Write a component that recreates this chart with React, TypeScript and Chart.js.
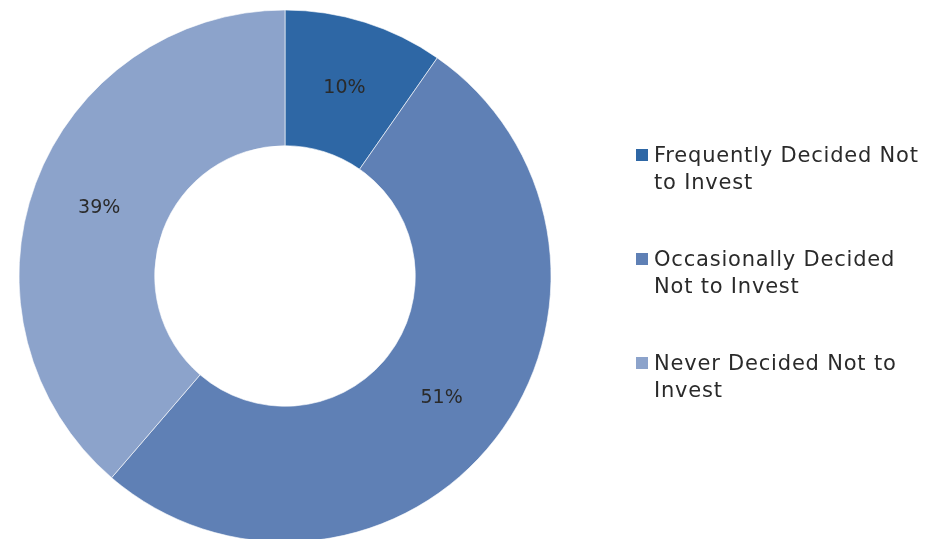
import React, { useEffect, useRef } from "react";
import { Chart, registerables } from "chart.js";

Chart.register(...registerables);

const categories: string[][] = [
  ["Frequently Decided Not", "to Invest"],
  ["Occasionally Decided", "Not to Invest"],
  ["Never Decided Not to", "Invest"],
];
const values: number[] = [9.7, 51.6, 38.7];
const valueLabels: string[] = ["10%", "51%", "39%"];
const colors: string[] = ["#2E67A5", "#5F80B5", "#8CA3CB"];

const FONT = "'DejaVu Sans', sans-serif";

const labelPlugin = {
  id: "sliceLabels",
  afterDatasetsDraw(chart: any) {
    const ctx = chart.ctx;
    const meta = chart.getDatasetMeta(0);
    ctx.save();
    ctx.font = `19px ${FONT}`;
    ctx.fillStyle = "#2a2a2a";
    ctx.textAlign = "center";
    ctx.textBaseline = "middle";
    meta.data.forEach((arc: any, i: number) => {
      const p = arc.tooltipPosition();
      ctx.fillText(valueLabels[i], p.x, p.y + 1);
    });
    ctx.restore();
  },
};

export default function App() {
  const ref = useRef<HTMLCanvasElement | null>(null);
  useEffect(() => {
    if (!ref.current) return;
    const chart = new Chart(ref.current, {
      type: "doughnut",
      data: {
        labels: categories.map((c) => c.join(" ")),
        datasets: [
          {
            data: values,
            backgroundColor: colors,
            borderColor: "rgba(255,255,255,0.6)",
            borderWidth: 1,
          },
        ],
      },
      options: {
        responsive: false,
        animation: false,
        radius: 266,
        cutout: 132,
        layout: { padding: { left: 15, right: 385, top: 6, bottom: 14 } },
        plugins: {
          legend: { display: false },
          tooltip: { enabled: false },
        },
      } as any,
      plugins: [labelPlugin],
    });
    return () => chart.destroy();
  }, []);

  const tops = [142, 246, 350];

  return (
    <div
      style={{
        position: "absolute",
        left: 0,
        top: 0,
        width: 940,
        height: 539,
        overflow: "hidden",
        background: "#ffffff",
      }}
    >
      <canvas ref={ref} width={940} height={560} style={{ position: "absolute", left: 0, top: 0 }} />
      {categories.map((lines, i) => (
        <div
          key={i}
          style={{
            position: "absolute",
            left: 636,
            top: tops[i],
            fontFamily: FONT,
            fontSize: 21,
            lineHeight: "27px",
            color: "#2a2a2a",
            letterSpacing: "0.8px",
            whiteSpace: "nowrap",
          }}
        >
          <span
            style={{
              position: "absolute",
              left: 0,
              top: 7,
              width: 12,
              height: 12,
              background: colors[i],
            }}
          />
          <div style={{ marginLeft: 18 }}>
            {lines.map((l, j) => (
              <div key={j}>{l}</div>
            ))}
          </div>
        </div>
      ))}
    </div>
  );
}
